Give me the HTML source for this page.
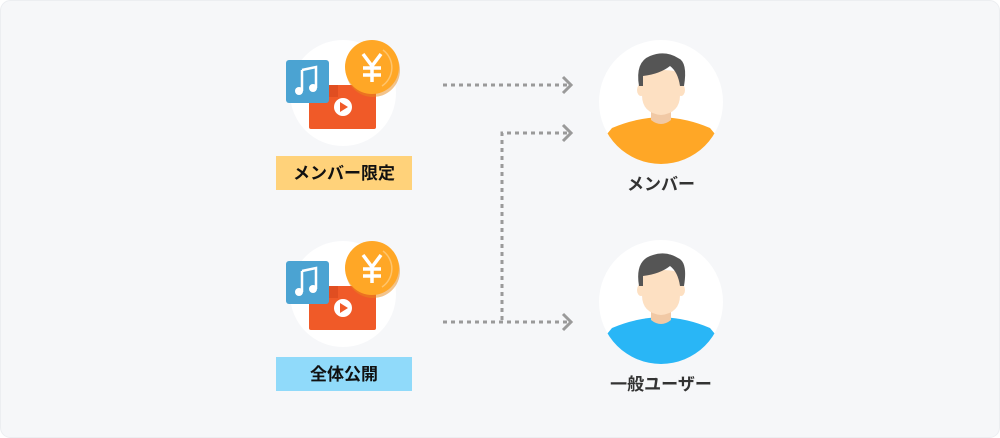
<!DOCTYPE html>
<html><head><meta charset="utf-8"><style>
html,body{margin:0;padding:0;background:#fff}
svg{display:block}
text{font-family:"Liberation Sans","Noto Sans CJK JP",sans-serif;font-weight:bold}
</style></head><body>
<svg width="1000" height="438" viewBox="0 0 1000 438" xmlns="http://www.w3.org/2000/svg">
<defs>
<g id="icon">
  <circle cx="343" cy="93" r="53" fill="#fff"/>
  <rect x="309" y="85" width="67" height="44" rx="2" fill="#f05a28"/>
  <path d="M309 85 H338 V97 H309Z" fill="#d0421a" opacity="0.5"/>
  <circle cx="343" cy="107" r="9" fill="#fff"/>
  <path d="M340 102 L348 107 L340 112Z" fill="#f05a28"/>
  <rect x="286" y="60" width="43" height="43" rx="3" fill="#4ba3d2"/>
  <path d="M302 70 L316 67 V88" stroke="#fff" stroke-width="2.5" fill="none"/>
  <path d="M302 70 V91" stroke="#fff" stroke-width="2.5"/>
  <circle cx="299" cy="91" r="4" fill="#fff"/>
  <circle cx="313" cy="88" r="4" fill="#fff"/>
  <circle cx="373" cy="70" r="27" fill="#e8891a" opacity="0.5"/>
  <circle cx="372" cy="67" r="27" fill="#ffa726"/>
  <path d="M383 50 A22 22 0 0 1 382 86" stroke="#ffc46b" stroke-width="1.5" fill="none"/>
  <path d="M363 54 L372 66 L381 54 M372 66 V82 M363 68 H381 M363 75 H381" stroke="#fff" stroke-width="3.5" fill="none"/>
</g>
<g id="head">
  <path d="M651 110 H671 V120 Q661 128 651 120Z" fill="#f1c9a5"/>
  <ellipse cx="641" cy="90" rx="4" ry="6" fill="#fde0c2"/>
  <ellipse cx="681" cy="90" rx="4" ry="6" fill="#fde0c2"/>
  <path d="M642 75 Q642 70 661 70 Q680 70 680 75 V95 Q680 113 661 115 Q642 113 642 95Z" fill="#fde0c2"/>
  <path d="M639 86 Q635 62 650 56 Q665 50 678 58 Q688 62 684 86 L680 86 Q678 72 670 66 Q660 74 643 76 L643 86Z" fill="#555"/>
</g>
<clipPath id="pc1"><circle cx="661" cy="102" r="62"/></clipPath>
<clipPath id="pc2"><circle cx="661" cy="302" r="62"/></clipPath>
</defs>
<rect x="0.5" y="0.5" width="999" height="437" rx="10" fill="#f6f7f9" stroke="#eceef1"/>

<use href="#icon"/>
<rect x="276" y="156" width="136" height="34" fill="#ffd27a"/>
<text x="344" y="179" font-size="17" text-anchor="middle" fill="#111">メンバー限定</text>

<g transform="translate(0,201)"><use href="#icon"/></g>
<rect x="276" y="357" width="136" height="34" fill="#90dafa"/>
<text x="344" y="380" font-size="17" text-anchor="middle" fill="#111">全体公開</text>

<g stroke="#9a9a9a" stroke-width="3" fill="none">
  <path d="M443 85 H568" stroke-dasharray="4 4"/>
  <path d="M502 320 V133 H568" stroke-dasharray="4 4"/>
  <path d="M443 322 H568" stroke-dasharray="4 4"/>
  <path d="M563 77 L571 85 L563 93"/>
  <path d="M563 125 L571 133 L563 141"/>
  <path d="M563 314 L571 322 L563 330"/>
</g>

<circle cx="661" cy="102" r="62" fill="#fff"/>
<g clip-path="url(#pc1)">
  <path d="M612 128 Q635 118 661 117 Q687 118 710 128 L745 170 H577Z" fill="#ffa726"/>
</g>
<use href="#head"/>
<text x="661" y="190" font-size="17" text-anchor="middle" fill="#333">メンバー</text>

<circle cx="661" cy="302" r="62" fill="#fff"/>
<g clip-path="url(#pc2)">
  <path d="M612 328 Q635 318 661 317 Q687 318 710 328 L745 370 H577Z" fill="#29b6f6"/>
</g>
<g transform="translate(0,200)"><use href="#head"/></g>
<text x="661" y="390" font-size="17" text-anchor="middle" fill="#333">一般ユーザー</text>
</svg>
</body></html>
